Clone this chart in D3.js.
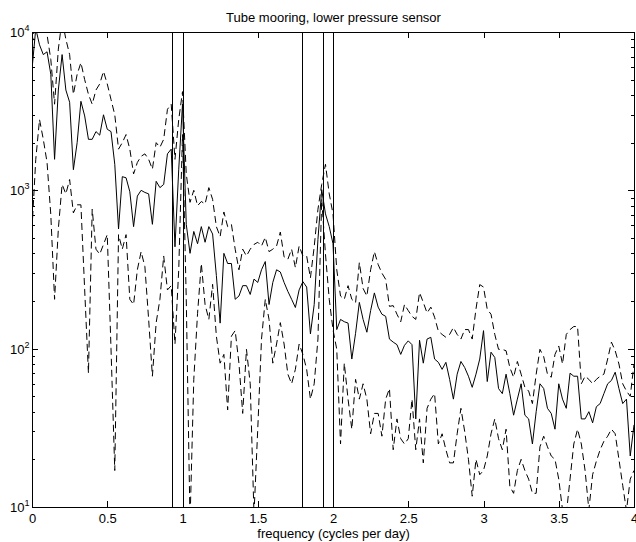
<!DOCTYPE html>
<html lang="en">
<head>
<meta charset="utf-8">
<style>
  body { margin: 0; background: #fff; }
  svg { display: block; font-family: "Liberation Sans", Arial, Helvetica, sans-serif; }
  .axis line { stroke: #000; shape-rendering: crispEdges; }
  .axis text { font-size: 13px; fill: #000; font-family: "Liberation Sans", Arial, sans-serif; }
  .frame { fill: none; stroke: #000; shape-rendering: crispEdges; }
  .spec { fill: none; stroke: #000; stroke-width: 1px; }
  .conf { fill: none; stroke: #000; stroke-width: 1px; stroke-dasharray: 7,4; }
  .tide { stroke: #000; shape-rendering: crispEdges; }
</style>
</head>
<body>
<svg width="636" height="542"></svg>
<script src="https://d3js.org/d3.v7.min.js"></script>
<script>
// frequency grid: 0 .. 4 cpd
var freqStep = 0.025;
var nFreq = 161;

// spectral estimate (solid)
var spectrum = [
  5800, 10500, 8300, 7200, 7500, 5400, 1570, 4300, 7200, 4300,
  3600, 1350, 2000, 3650, 2950, 2100, 2100, 2350, 2230, 3000,
  2430, 2350, 1460, 570, 1220, 1200, 980, 590, 920, 1000,
  970, 950, 610, 1140, 1040, 1090, 1700, 1820, 440, 1360,
  3500, 610, 400, 550, 460, 590, 470, 590, 530, 290,
  145, 400, 345, 345, 205, 215, 250, 250, 220, 275,
  262, 315, 355, 190, 262, 315, 305, 262, 230, 205,
  182, 235, 265, 245, 124, 190, 490, 1010, 710, 590,
  460, 132, 153, 148, 145, 86, 125, 196, 153, 127,
  174, 225, 183, 165, 160, 115, 110, 106, 92, 105,
  112, 106, 36, 113, 81, 115, 118, 86, 82, 74,
  82, 64, 48, 69, 83, 76, 67, 57, 69, 86,
  130, 62, 95, 88, 56, 52, 69, 52, 38, 48,
  60, 38, 36, 25, 40, 60, 56, 42, 39, 31,
  60, 48, 42, 70, 67, 67, 36, 36, 40, 34,
  43, 45, 52, 60, 63, 71, 56, 45, 48, 21, 33
];

// upper bound (dashed)
var upper = [
  8300, 12000, 14000, 12000, 9600, 6700, 3500, 7800, 12000, 9000,
  7200, 4040, 5400, 6400, 5000, 4040, 3500, 4300, 4700, 5640,
  4700, 3750, 3000, 1820, 2000, 2250, 1820, 1270, 1500, 1640,
  1700, 1570, 1360, 2000, 1870, 2100, 3250, 3500, 1570, 2800,
  4200, 1270, 840, 1000, 800, 850, 820, 1040, 877, 590,
  510, 730, 590, 610, 425, 315, 425, 385, 425, 455,
  470, 445, 505, 410, 425, 445, 545, 380, 367, 425,
  325, 445, 385, 385, 280, 440, 760, 1090, 1460, 950,
  710, 315, 215, 205, 250, 205, 195, 350, 240, 215,
  315, 410, 340, 300, 274, 185, 187, 165, 148, 190,
  174, 160, 153, 226, 196, 168, 183, 158, 129, 123,
  118, 123, 136, 123, 115, 132, 132, 115, 178, 254,
  245, 177, 165, 123, 99, 99, 97, 76, 66, 83,
  69, 57, 54, 45, 69, 99, 89, 69, 66, 92,
  104, 80, 123, 132, 138, 138, 60, 67, 64, 60,
  64, 67, 69, 86, 110, 97, 80, 60, 54, 50, 80
];

// lower bound (dashed)
var lower = [
  570, 1570, 2800, 2100, 1500, 700, 205, 570, 1090, 950,
  1170, 720, 810, 810, 235, 70, 760, 425, 395, 455,
  525, 100, 17, 525, 425, 525, 205, 190, 315, 410,
  330, 153, 67, 146, 205, 385, 235, 250, 107, 315,
  2250, 205, 8, 64, 167, 345, 190, 153, 255, 120,
  81, 92, 41, 120, 130, 81, 39, 99, 60, 9,
  31, 115, 205, 153, 81, 107, 146, 107, 69, 60,
  74, 107, 92, 74, 48, 60, 115, 880, 395, 205,
  132, 99, 25, 81, 48, 31, 64, 48, 60, 48,
  29, 39, 39, 28, 48, 56, 23, 36, 27, 25,
  27, 48, 23, 36, 19, 42, 48, 52, 25, 29,
  23, 19, 19, 29, 42, 30, 20, 11.7, 20, 16,
  17, 21, 29, 36, 27, 23, 31, 13.5, 12.2, 17,
  20, 17, 15, 12.2, 12.2, 24, 28, 24, 21, 20,
  15, 9.6, 9, 15, 25, 31, 25, 17, 9.6, 16,
  19.5, 23, 26, 28, 31, 29, 20, 13.7, 9.5, 15, 17
];

// tidal constituent frequencies (vertical lines)
var tideFreqs = [0.9295, 1.0027, 1.7942, 1.9323, 2.0];

var xTicks = [0, 0.5, 1, 1.5, 2, 2.5, 3, 3.5, 4];
var yTicks = [10, 100, 1000, 10000];
var yExps = ["1", "2", "3", "4"];

var svg = d3.select("svg");
var x0 = 32, x1 = 634, yTop = 32, yBot = 507;

var x = d3.scaleLinear().domain([0, 4]).range([x0, x1]);
var y = d3.scaleLog().domain([10, 10000]).range([yBot, yTop]);

var freqs = d3.range(nFreq).map(function (i) { return i * freqStep; });

svg.append("defs").append("clipPath").attr("id", "plotclip")
    .append("rect")
    .attr("x", x0 + 0.5).attr("y", yTop + 0.5)
    .attr("width", x1 - x0).attr("height", yBot - yTop);

var plot = svg.append("g").attr("clip-path", "url(#plotclip)");

var line = d3.line()
    .x(function (d, i) { return x(freqs[i]); })
    .y(function (d) { return y(d); });

plot.append("path").attr("class", "conf").attr("d", line(upper));
plot.append("path").attr("class", "conf").attr("d", line(lower));
plot.append("path").attr("class", "spec").attr("d", line(spectrum));

plot.selectAll(".tide")
    .data(tideFreqs)
    .enter()
    .append("line")
    .attr("class", "tide")
    .attr("x1", function (d) { return Math.round(x(d)) + 0.5; })
    .attr("x2", function (d) { return Math.round(x(d)) + 0.5; })
    .attr("y1", yTop)
    .attr("y2", yBot + 1);

// minor ticks for log axis
var yMinor = [];
[10, 100, 1000].forEach(function (dec) {
    for (var m = 2; m <= 9; m++) yMinor.push(dec * m);
});

function noDomain(g) { g.select(".domain").remove(); }

svg.append("g").attr("class", "axis")
    .attr("transform", "translate(0," + yBot + ")")
    .call(d3.axisBottom(x).tickValues(xTicks).tickSize(-6).tickFormat(function (d) { return String(d); }))
    .call(noDomain)
    .call(function (g) { g.selectAll("text").attr("y", 15.5).attr("dy", null); });

svg.append("g").attr("class", "axis")
    .attr("transform", "translate(0," + yTop + ")")
    .call(d3.axisTop(x).tickValues(xTicks).tickSize(-6).tickFormat(""))
    .call(noDomain);

svg.append("g").attr("class", "axis")
    .attr("transform", "translate(" + x0 + ",0)")
    .call(d3.axisLeft(y).tickValues(yTicks).tickSize(-6).tickFormat(""))
    .call(noDomain);

svg.append("g").attr("class", "axis")
    .attr("transform", "translate(" + x0 + ",0)")
    .call(d3.axisLeft(y).tickValues(yMinor).tickSize(-3).tickFormat(""))
    .call(noDomain);

svg.append("g").attr("class", "axis")
    .attr("transform", "translate(" + x1 + ",0)")
    .call(d3.axisRight(y).tickValues(yTicks).tickSize(-6).tickFormat(""))
    .call(noDomain);

svg.append("g").attr("class", "axis")
    .attr("transform", "translate(" + x1 + ",0)")
    .call(d3.axisRight(y).tickValues(yMinor).tickSize(-3).tickFormat(""))
    .call(noDomain);

// y tick labels as 10^n
var ylab = svg.append("g").attr("class", "axis");
yTicks.forEach(function (v, i) {
    var t = ylab.append("text")
        .attr("x", 29.5)
        .attr("y", y(v) + 5)
        .attr("text-anchor", "end");
    t.append("tspan").text("10");
    t.append("tspan").attr("dy", -6).style("font-size", "9px").text(yExps[i]);
});

// frame
svg.append("rect").attr("class", "frame")
    .attr("x", x0 + 0.5).attr("y", yTop + 0.5)
    .attr("width", x1 - x0).attr("height", yBot - yTop);

svg.append("text")
    .attr("x", (x0 + x1) / 2 + 0.5)
    .attr("y", 22)
    .attr("text-anchor", "middle")
    .style("font-size", "13px")
    .text("Tube mooring, lower pressure sensor");

svg.append("text")
    .attr("x", (x0 + x1) / 2 + 0.5)
    .attr("y", 537.5)
    .attr("text-anchor", "middle")
    .style("font-size", "13px")
    .text("frequency (cycles per day)");
</script>
</body>
</html>
